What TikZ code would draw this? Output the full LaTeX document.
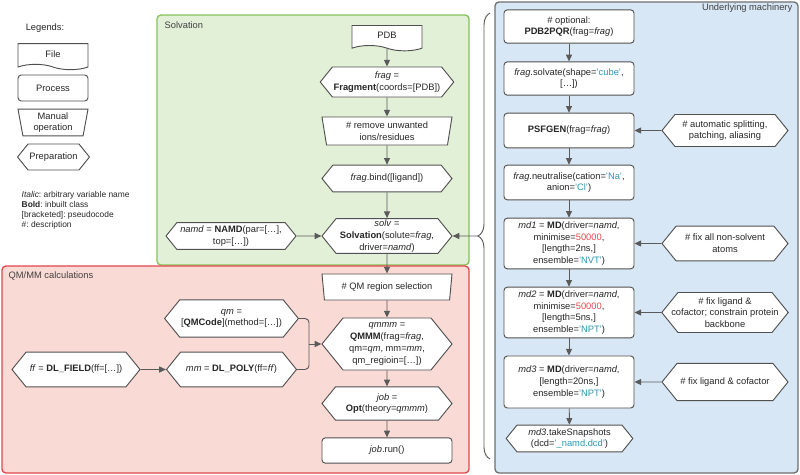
\documentclass[tikz,border=0pt]{standalone}
\usepackage{fontspec}
\setmainfont{Liberation Sans}
\usepackage{tikz}
\usetikzlibrary{arrows.meta}
\usetikzlibrary{shapes.geometric,shapes.symbols}
\usetikzlibrary{decorations.pathreplacing}

\definecolor{solvgreen}{HTML}{E3F0D8}
\definecolor{solvedge}{HTML}{84C354}
\definecolor{qmred}{HTML}{FADAD5}
\definecolor{qmedge}{HTML}{E0474C}
\definecolor{machblue}{HTML}{D8E7F5}
\definecolor{machedge}{HTML}{6E6E6E}
\definecolor{boxedge}{HTML}{505050}
\definecolor{arrgray}{HTML}{5A5A5A}
\definecolor{txtcyan}{HTML}{2A97B3}
\definecolor{txtred}{HTML}{E8474B}
\newcommand\cyanval[1]{\textcolor{txtcyan}{#1}}
\newcommand\redval[1]{\textcolor{txtred}{#1}}
\frenchspacing

\begin{document}
\begin{tikzpicture}[x=0.75pt, y=-0.75pt,
  every node/.style={font=\fontsize{7}{8.8}\selectfont, text=black!85},
  box/.style={draw=boxedge, fill=white, line width=0.7pt, align=center, inner sep=1pt},
  process/.style={box, rectangle, rounded corners=2.5pt, minimum width=97.5pt},
  manual/.style={box, trapezium, trapezium stretches body, shape border rotate=180, trapezium angle=78, minimum width=97.5pt},
  prep/.style={box, signal, signal to=west and east, signal pointer angle=102, minimum width=97.5pt},
  file/.style={box, tape, tape bend top=none, tape bend bottom=out and in, tape bend height=4pt, minimum width=52.5pt},
  arr/.style={draw=arrgray, line width=0.7pt, -{Triangle[length=5pt,width=4.5pt]}},
  region/.style={line width=1pt, rounded corners=3pt},
  tag/.style={text=black!75}
]
\useasboundingbox (0,0) rectangle (800,475);

% regions
\draw[region, draw=solvedge, fill=solvgreen] (157,15) rectangle (469,265);
\draw[region, draw=qmedge, fill=qmred] (2,266) rectangle (469,473);
\draw[region, draw=machedge, fill=machblue] (495,2) rectangle (798,473);
\node[tag, anchor=west] (solvtag) at (160,25) {Solvation};
\node[tag, anchor=west] (qmtag) at (4,276) {QM/MM calculations};
\node[tag, anchor=east] (machtag) at (797,8) {Underlying machinery};

% legends
\node (legtag) at (45,28) {Legends:};
\node[file, minimum height=19.5pt] (lfile) at (53,54) {File};
\node[process, minimum width=52.5pt, minimum height=19.5pt] (lproc) at (53,88) {Process};
\node[manual, minimum width=52.5pt, minimum height=20pt] (lman) at (53,122.5) {Manual\\operation};
\node[prep, minimum width=52.5pt, minimum height=19.5pt] (lprep) at (53.5,157) {Preparation};
\node[anchor=north west, align=left, font=\fontsize{6.3}{7.5}\selectfont] (lkey) at (17,187)
  {\textit{Italic}: arbitrary variable name\\ \textbf{Bold}: inbuilt class\\ {[bracketed]}: pseudocode\\ \#: description};

% solvation
\node[file, minimum height=19pt] (pdb) at (387,35.5) {PDB};
\node[prep, minimum height=22.5pt] (frag) at (387,82) {\textit{frag} =\\ \textbf{Fragment}(coords=[PDB])};
\node[manual, minimum height=21pt] (remove) at (387,131) {\# remove unwanted\\ ions/residues};
\node[prep, minimum height=20pt] (bind) at (387,178.5) {\textit{frag}.bind([ligand])};
\node[prep, minimum height=26pt] (solv) at (387,236) {\textit{solv} =\\ \textbf{Solvation}(solute=\textit{frag},\\ driver=\textit{namd})};
\node[prep, minimum height=20pt] (namd) at (231,236) {\textit{namd} = \textbf{NAMD}(par=[\dots],\\ top=[\dots])};

% qm/mm
\node[manual, minimum height=19.5pt] (qmsel) at (387,287) {\# QM region selection};
\node[prep, minimum height=39pt] (qmmm) at (387,344) {\textit{qmmm} =\\ \textbf{QMMM}(frag=\textit{frag},\\ qm=\textit{qm}, mm=\textit{mm},\\ qm\_regioin=[\dots])};
\node[prep, minimum height=25pt] (job) at (387,403.5) {\textit{job} =\\ \textbf{Opt}(theory=\textit{qmmm})};
\node[process, minimum height=19pt] (run) at (387,450.5) {\textit{job}.run()};
\node[prep, minimum height=28pt] (qm) at (231.5,318.5) {\textit{qm} =\\ {[\textbf{QMCode}]}(method=[\dots])};
\node[prep, minimum height=26pt] (mm) at (231.5,369.5) {\textit{mm} = \textbf{DL\_POLY}(ff=\textit{ff})};
\node[prep, minimum height=26pt, minimum width=96pt] (ff) at (76,369.5) {\textit{ff} = \textbf{DL\_FIELD}(ff=[\dots])};
\coordinate (qmjoin) at (309,344);

% underlying machinery
\node[process, minimum height=25pt] (pqr) at (569,26.5) {\# optional:\\ \textbf{PDB2PQR}(frag=\textit{frag})};
\node[process, minimum height=25pt] (solvate) at (569,78.5) {\textit{frag}.solvate(shape=\cyanval{'cube'},\\ {[\dots]})};
\node[process, minimum height=26pt] (psfgen) at (569,130.5) {\textbf{PSFGEN}(frag=\textit{frag})};
\node[process, minimum height=26pt] (neutral) at (569,182.5) {\textit{frag}.neutralise(cation=\cyanval{'Na'},\\ anion=\cyanval{'Cl'})};
\node[process, minimum height=38pt] (md1) at (569,243.5) {\textit{md1} = \textbf{MD}(driver=\textit{namd},\\ minimise=\redval{50000},\\ {[length=2ns,]}\\ ensemble=\cyanval{'NVT'})};
\node[process, minimum height=38pt] (md2) at (569,312.5) {\textit{md2} = \textbf{MD}(driver=\textit{namd},\\ minimise=\redval{50000},\\ {[length=5ns,]}\\ ensemble=\cyanval{'NPT'})};
\node[process, minimum height=39pt] (md3) at (569,382) {\textit{md3} = \textbf{MD}(driver=\textit{namd},\\ {[length=20ns,]}\\ ensemble=\cyanval{'NPT'})};
\node[prep, minimum height=20pt, minimum width=95pt] (snap) at (569.5,438.5) {\textit{md3}.takeSnapshots\\ (dcd=\cyanval{'\_namd.dcd'})};
\node[prep, minimum height=24pt, minimum width=94.5pt] (autohex) at (725,130.5) {\# automatic splitting,\\ patching, aliasing};
\node[prep, minimum height=26pt, minimum width=94.5pt] (fixall) at (725,243.5) {\# fix all non-solvent\\ atoms};
\node[prep, minimum height=30pt, minimum width=94.5pt, inner xsep=-5pt] (fixlig2) at (725,312.5) {\# fix ligand \&\\ cofactor; constrain protein\\ backbone};
\node[prep, minimum height=28pt, minimum width=94.5pt] (fixlig) at (725,382) {\# fix ligand \& cofactor};

% brace
\draw[draw=arrgray, line width=0.7pt, decorate, decoration={brace, amplitude=9pt, aspect=0.5}] (490,459) -- (490,13);
\coordinate (bracetip) at (478,236);

% connectors
\draw[arr] (pdb) -- (frag);
\draw[arr] (frag) -- (remove);
\draw[arr] (remove) -- (bind);
\draw[arr] (bind) -- (solv);
\draw[arr] (namd) -- (solv);
\draw[arr] (bracetip) -- (solv);
\draw[arr] (solv) -- (qmsel);
\draw[arr] (qmsel) -- (qmmm);
\draw[arr] (qmmm) -- (job);
\draw[arr] (job) -- (run);
\draw[arr] (ff) -- (mm);
\draw[draw=arrgray, line width=0.7pt, rounded corners=3pt] (qm.east) -| (qmjoin);
\draw[draw=arrgray, line width=0.7pt, rounded corners=3pt] (mm.east) -| (qmjoin);
\draw[arr] (qmjoin) -- (qmmm.west);

\draw[arr] (pqr) -- (solvate);
\draw[arr] (solvate) -- (psfgen);
\draw[arr] (psfgen) -- (neutral);
\draw[arr] (neutral) -- (md1);
\draw[arr] (md1) -- (md2);
\draw[arr] (md2) -- (md3);
\draw[arr] (md3) -- (snap);
\draw[arr] (autohex) -- (psfgen);
\draw[arr] (fixall) -- (md1);
\draw[arr] (fixlig2) -- (md2);
\draw[arr] (fixlig) -- (md3);

\end{tikzpicture}
\end{document}
